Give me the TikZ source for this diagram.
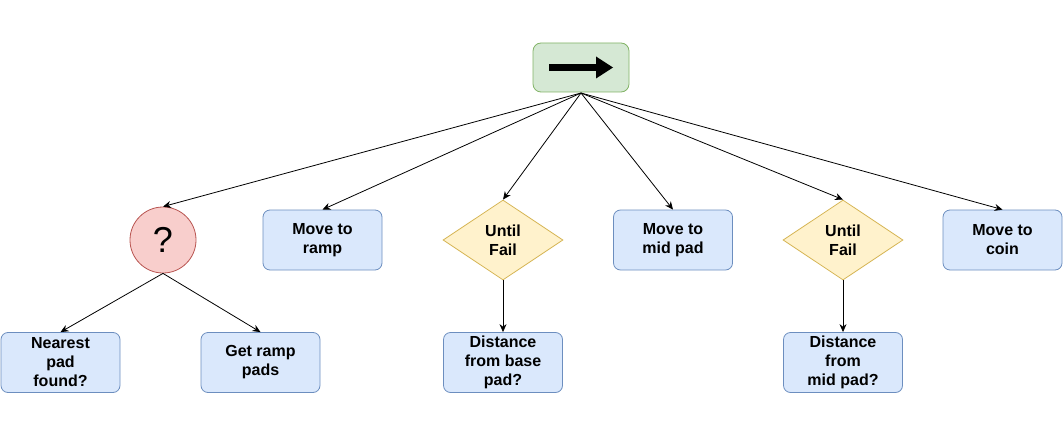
\documentclass[tikz,border=0pt]{standalone}
\usepackage{fontspec}
\setmainfont{Liberation Sans}
\usetikzlibrary{arrows.meta,shapes.geometric}
\definecolor{gfill}{HTML}{D5E8D4}\definecolor{gdraw}{HTML}{82B366}
\definecolor{rfill}{HTML}{F8CECC}\definecolor{rdraw}{HTML}{B85450}
\definecolor{bfill}{HTML}{DAE8FC}\definecolor{bdraw}{HTML}{6C8EBF}
\definecolor{yfill}{HTML}{FFF2CC}\definecolor{ydraw}{HTML}{D6B656}
\tikzset{
  lbl/.style={font=\fontsize{16}{19}\selectfont\bfseries, align=center, execute at begin node={\rule{0pt}{16pt}}},
  action/.style={lbl, draw=bdraw, fill=bfill, rounded corners=7pt, minimum width=119pt, minimum height=60pt, inner sep=0pt, line width=0.8pt},
  deco/.style={lbl, diamond, draw=ydraw, fill=yfill, minimum width=120pt, minimum height=80pt, inner sep=0pt, aspect=1.5, line width=0.8pt},
  sel/.style={circle, draw=rdraw, fill=rfill, minimum size=66pt, inner sep=0pt, line width=0.8pt, font=\fontsize{36}{40}\selectfont},
  seq/.style={draw=gdraw, fill=gfill, rounded corners=8pt, minimum width=96pt, minimum height=49pt, inner sep=0pt, line width=0.8pt},
  conn/.style={line width=0.8pt, -{Stealth[length=8pt,width=7pt]}}
}
\begin{document}
\begin{tikzpicture}[x=1pt,y=-1pt]
\useasboundingbox (0,0) rectangle (1064,441);
\node[seq] (root) at (581,67.5) {};
\fill (549,64) rectangle (600,71);
\fill (596,56.5) -- (613,67.5) -- (596,78.5) -- cycle;
\coordinate (rb) at (581,93);

\node[sel] (q) at (163,240) {?};
\node[action] (ramp) at (322.5,240) {Move to\\ramp};
\node[deco] (uf1) at (503,240) {Until\\Fail};
\node[action] (mid) at (673,240) {Move to\\mid pad};
\node[deco] (uf2) at (843,240) {Until\\Fail};
\node[action] (coin) at (1002.5,240) {Move to\\coin};

\node[action] (near) at (60.5,362.5) {Nearest\\pad\\found?};
\node[action] (get) at (260.5,362.5) {Get ramp\\pads};
\node[action] (dbase) at (503,362.5) {Distance\\from base\\pad?};
\node[action] (dmid) at (843,362.5) {Distance\\from\\mid pad?};

\draw[conn] (rb) -- (q.north);
\draw[conn] (rb) -- (ramp.north);
\draw[conn] (rb) -- (uf1.north);
\draw[conn] (rb) -- (mid.north);
\draw[conn] (rb) -- (uf2.north);
\draw[conn] (rb) -- (coin.north);

\draw[conn] (q.south) -- (near.north);
\draw[conn] (q.south) -- (get.north);
\draw[conn] (uf1.south) -- (dbase.north);
\draw[conn] (uf2.south) -- (dmid.north);
\end{tikzpicture}
\end{document}
